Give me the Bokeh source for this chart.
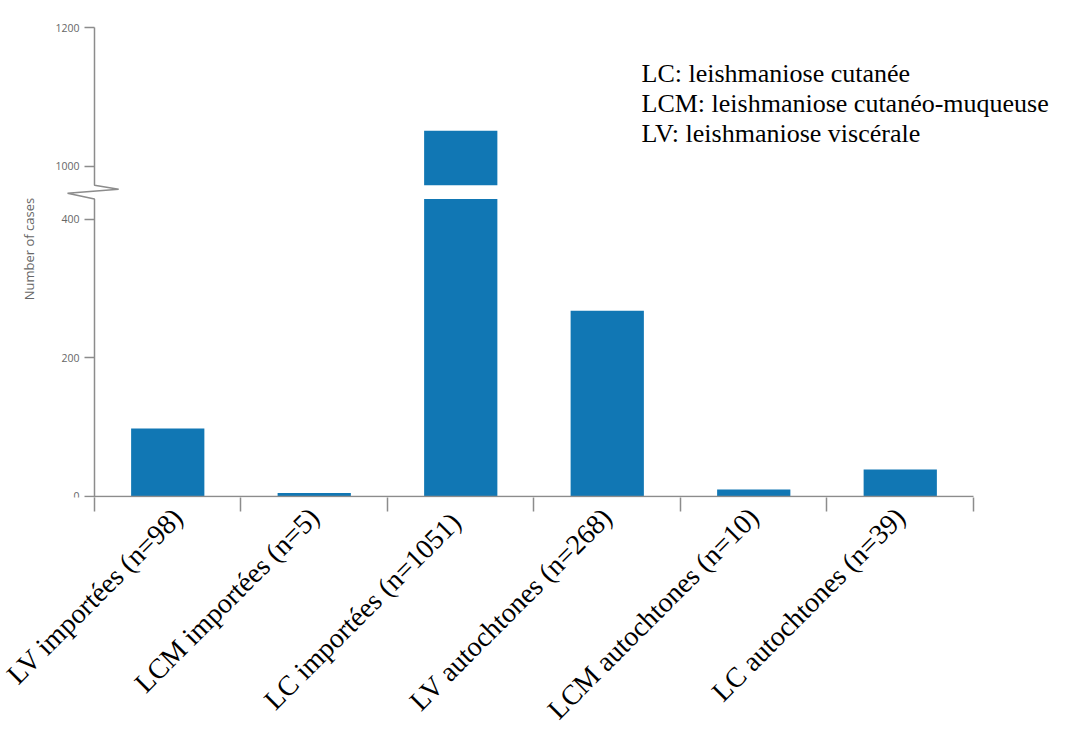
import numpy as np
from bokeh.plotting import figure
from bokeh.models import FixedTicker, Label, Range1d, ColumnDataSource
from bokeh.embed import file_html
from bokeh.resources import INLINE

# ---------------- data ----------------
categories = ["LV importées (n=98)", "LCM importées (n=5)", "LC importées  (n=1051)",
              "LV autochtones (n=268)", "LCM autochtones (n=10)", "LC autochtones (n=39)"]
cases = [98, 5, 1051, 268, 10, 39]
y_ticks = [0, 200, 400, 1000, 1200]
legend_lines = ["LC: leishmaniose cutanée",
                "LCM: leishmaniose cutanéo-muqueuse",
                "LV: leishmaniose viscérale"]

# ---------------- broken axis ----------------
BREAK_LOW = 446.0      # top of lower segment (value)
BREAK_HIGH = 969.5     # bottom of upper segment (value)
Y_MAX = 1200.0
LOW_CAP = 429.0        # where a cut bar stops in the lower segment
HIGH_START = 972.5     # where a cut bar restarts in the upper segment


def disp(v):
    v = float(v)
    return v if v <= BREAK_LOW else v - (BREAK_HIGH - BREAK_LOW)


BAR_COLOR = "#1177b4"
AXIS_COLOR = "#8c8c8c"

# layout (frame spans the full width so that the zig-zag and the legend are not clipped)
X_START = -0.6416
X_END = 6.6007
Y_START = -1.5
Y_END = disp(Y_MAX) + 38.95

p = figure(x_range=Range1d(X_START, X_END), y_range=Range1d(Y_START, Y_END),
           frame_width=1061, frame_height=497,
           min_border_left=0, min_border_right=0, min_border_top=0, min_border_bottom=232,
           output_backend="svg", toolbar_location=None, outline_line_color=None,
           background_fill_color="white", border_fill_color="white")
p.grid.visible = False

# bars (split when they cross the break)
xs, tops, bottoms = [], [], []
for i, v in enumerate(cases):
    c = i + 0.5
    if v > BREAK_HIGH:
        xs += [c, c]
        bottoms += [0, disp(HIGH_START)]
        tops += [disp(LOW_CAP), disp(v)]
    else:
        xs.append(c)
        bottoms.append(0)
        tops.append(disp(v))
src = ColumnDataSource(dict(x=xs, top=tops, bottom=bottoms))
p.vbar(x="x", top="top", bottom="bottom", width=0.5, source=src,
       fill_color=BAR_COLOR, line_color=None)

# x axis
n = len(categories)
centers = [i + 0.5 for i in range(n)]
p.xaxis.ticker = FixedTicker(ticks=centers, minor_ticks=list(range(n + 1)))
p.xaxis.major_label_overrides = {c: lab for c, lab in zip(centers, categories)}
p.xaxis.major_label_orientation = np.pi / 4
p.xaxis.major_label_text_font = "Liberation Serif"
p.xaxis.major_label_text_font_size = "28px"
p.xaxis.major_label_text_color = "black"
p.xaxis.major_label_standoff = 1
p.xaxis.major_tick_out = 0
p.xaxis.major_tick_in = 0
p.xaxis.minor_tick_out = 14
p.xaxis.minor_tick_in = 0
p.xaxis.minor_tick_line_color = AXIS_COLOR
p.xaxis.minor_tick_line_width = 1.5
p.xaxis.axis_line_color = None
p.line(x=[0, n], y=[0, 0], line_color=AXIS_COLOR, line_width=1.5)

# y axis (placed at x = 0)
p.yaxis.fixed_location = 0
p.yaxis.ticker = FixedTicker(ticks=[disp(t) for t in y_ticks], minor_ticks=[])
p.yaxis.major_label_overrides = {disp(t): str(t) for t in y_ticks}
p.yaxis.axis_line_color = None
p.yaxis.major_tick_out = 10
p.yaxis.major_tick_in = 0
p.yaxis.major_tick_line_color = AXIS_COLOR
p.yaxis.major_tick_line_width = 1.5
p.yaxis.major_label_text_font = "Open Sans"
p.yaxis.major_label_text_font_size = "10.5px"
p.yaxis.major_label_text_color = "#666666"
p.yaxis.major_label_standoff = 5
p.yaxis.axis_label = "Number of cases"
p.yaxis.axis_label_text_font = "Open Sans"
p.yaxis.axis_label_text_font_size = "13px"
p.yaxis.axis_label_text_font_style = "normal"
p.yaxis.axis_label_text_color = "#666666"
p.yaxis.axis_label_standoff = 14

# y axis line with zig-zag break
ZZ_RIGHT = 0.165
ZZ_LEFT = -0.184
axis_x = [0, 0, ZZ_RIGHT, ZZ_LEFT, 0, 0]
axis_y = [disp(Y_MAX), disp(HIGH_START), disp(BREAK_LOW - 2.7), disp(BREAK_LOW - 8.5),
          disp(LOW_CAP), Y_START]
p.line(x=axis_x, y=axis_y, line_color=AXIS_COLOR, line_width=1.5)

# legend text (top right)
LEG_X = 3.734
LEG_Y0 = 610.8
LEG_DY = 43.3
for k, line in enumerate(legend_lines):
    p.add_layout(Label(x=LEG_X, y=LEG_Y0 - k * LEG_DY, text=line,
                       text_font="Liberation Serif", text_font_size="26px",
                       text_color="black", text_baseline="middle", text_align="left"))

open("out.html", "w").write(file_html(p, INLINE))
